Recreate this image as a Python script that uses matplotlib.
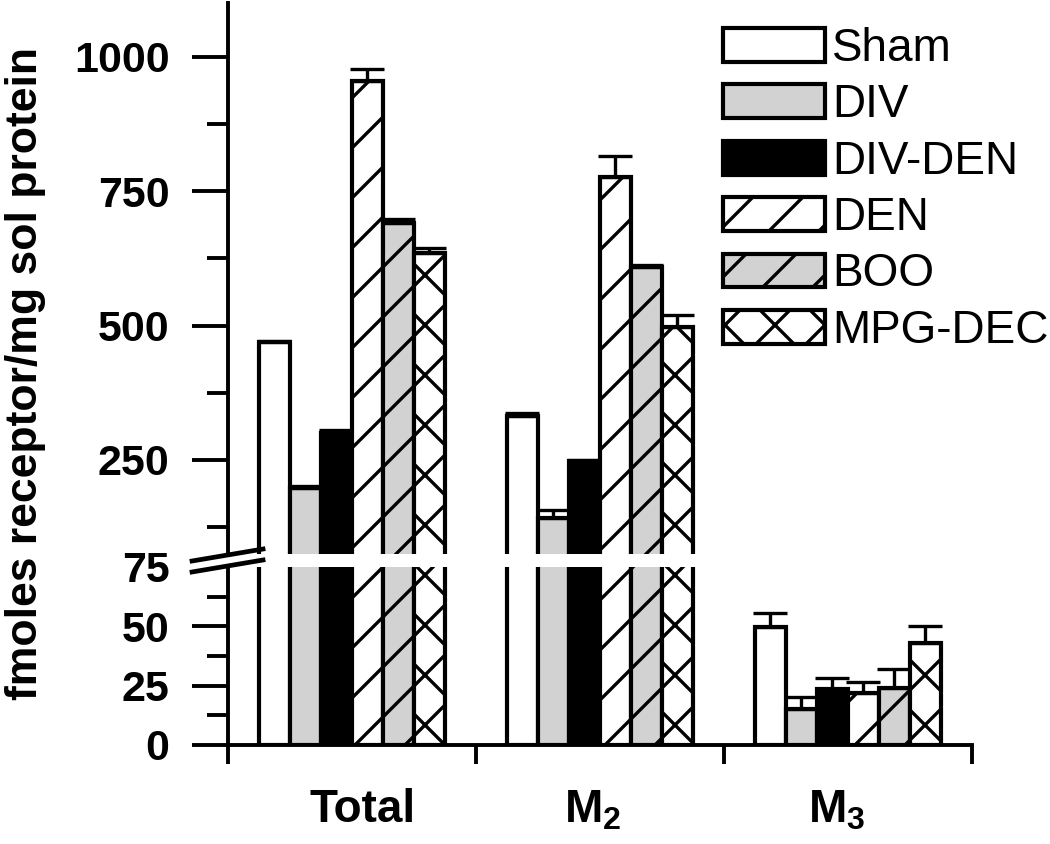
import matplotlib
matplotlib.use("Agg")
import matplotlib.pyplot as plt
import numpy as np
from matplotlib.backend_bases import GraphicsContextBase
from matplotlib.ticker import FixedLocator

# sparser hatching like the printed figure (default density is 6)
_orig_hatch_path = GraphicsContextBase.get_hatch_path


def _sparse_hatch_path(self, density=6.0):
    return _orig_hatch_path(self, density=4.0)


GraphicsContextBase.get_hatch_path = _sparse_hatch_path

plt.rcParams['font.family'] = ['Liberation Sans', 'DejaVu Sans']
plt.rcParams['mathtext.fontset'] = 'custom'
plt.rcParams['mathtext.bf'] = 'Liberation Sans:bold'
plt.rcParams['mathtext.rm'] = 'Liberation Sans:bold'
plt.rcParams['hatch.linewidth'] = 2.4

# data
groups = ["Total", r"$\mathbf{M_2}$", r"$\mathbf{M_3}$"]
treatments = ["Sham", "DIV", "DIV-DEN", "DEN", "BOO", "MPG-DEC"]
sham = [469, 332, 49.8]
div = [198, 142, 15.2]
div_den = [300, 248, 23.6]
den = [955, 777, 21.9]
boo = [690, 609, 24.0]
mpg_dec = [635, 497, 43.0]
sham_err = [3, 5, 6.0]
div_err = [3, 15, 5.0]
div_den_err = [6, 2, 4.5]
den_err = [23, 38, 4.5]
boo_err = [8, 4, 8.0]
mpg_dec_err = [9, 22, 7.0]

values = [sham, div, div_den, den, boo, mpg_dec]
errors = [sham_err, div_err, div_den_err, den_err, boo_err, mpg_dec_err]
styles = [
    dict(facecolor="white", hatch=None),
    dict(facecolor="#d2d2d2", hatch=None),
    dict(facecolor="black", hatch=None),
    dict(facecolor="white", hatch="/"),
    dict(facecolor="#d2d2d2", hatch="/"),
    dict(facecolor="white", hatch="x"),
]

fig = plt.figure(figsize=(10.5, 8.44), dpi=100)
ax_hi = fig.add_axes([0.2171, 0.3436, 0.7086, 0.6528])
ax_lo = fig.add_axes([0.2171, 0.1173, 0.7086, 0.2109])

x = np.arange(len(groups))
w = 0.125
lw = 3.0
bars = []
for ax in (ax_hi, ax_lo):
    for i, (vals, errs, st) in enumerate(zip(values, errors, styles)):
        pos = x - 0.375 + w * (i + 0.5)
        b = ax.bar(pos, vals, width=w, edgecolor="black", linewidth=lw,
                   facecolor=st["facecolor"], hatch=st["hatch"], zorder=2)
        ax.errorbar(pos, vals, yerr=[np.zeros(len(vals)), errs], fmt="none",
                    ecolor="black", elinewidth=2.4, capsize=12, capthick=2.4, zorder=3)
        if ax is ax_hi:
            bars.append(b)
    ax.set_xlim(-0.5, 2.5)
    ax.spines["top"].set_visible(False)
    ax.spines["right"].set_visible(False)
    ax.spines["left"].set_linewidth(2.8)
    ax.tick_params(axis="y", which="major", direction="out", length=26, width=2.8,
                   labelsize=31, pad=16)
    ax.tick_params(axis="y", which="minor", direction="out", length=15, width=2.8)

# upper segment
ax_hi.set_ylim(75, 1100)
ax_hi.spines["bottom"].set_visible(False)
ax_hi.set_yticks([250, 500, 750, 1000])
ax_hi.set_yticklabels(["250", "500", "750", "1000"], fontweight="bold")
ax_hi.yaxis.set_minor_locator(FixedLocator([125, 375, 625, 875]))
ax_hi.set_xticks([])

# lower segment
ax_lo.set_ylim(0, 75)
ax_lo.set_yticks([0, 25, 50, 75])
ax_lo.set_yticklabels(["0", "25", "50", "75"], fontweight="bold")
ax_lo.yaxis.get_major_ticks()[-1].tick1line.set_visible(False)
ax_lo.yaxis.set_minor_locator(FixedLocator([12.5, 37.5, 62.5]))
ax_lo.spines["bottom"].set_linewidth(2.8)
ax_lo.set_xticks(x + np.array([0.044, -0.03, -0.044]))
ax_lo.set_xticklabels(groups, fontsize=33, fontweight="bold")
ax_lo.tick_params(axis="x", which="major", length=0, pad=31)
ax_lo.xaxis.set_minor_locator(FixedLocator([-0.5, 0.5, 1.5, 2.5]))
ax_lo.tick_params(axis="x", which="minor", direction="out", length=14, width=2.8)

# axis break marks
fig.add_artist(plt.Line2D([0.1829, 0.2505], [0.3353, 0.3495], color="black", lw=3.4))
fig.add_artist(plt.Line2D([0.1829, 0.2505], [0.3223, 0.3365], color="black", lw=3.4))

fig.text(0.024, 1 - 373 / 844, "fmoles receptor/mg sol protein", rotation=90,
         ha="center", va="center", fontsize=32, fontweight="bold")

fig.legend(handles=bars, labels=treatments, loc="upper left",
           bbox_to_anchor=(723 / 1050, 1 - 27 / 844), frameon=False, fontsize=33,
           handlelength=2.23, handleheight=0.76, labelspacing=0.27, handletextpad=0.15,
           borderpad=0, borderaxespad=0)

fig.savefig("out.png", dpi=100)
